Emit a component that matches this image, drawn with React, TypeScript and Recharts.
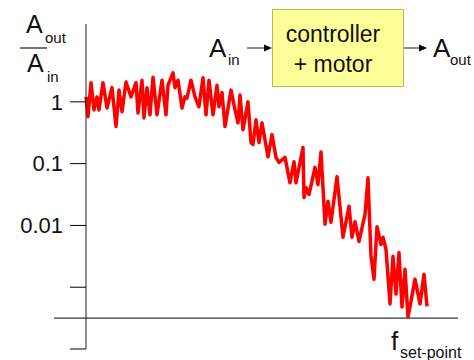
import * as React from "react";
import { LineChart, Line, XAxis, YAxis, ReferenceLine } from "recharts";

// frequency position (arbitrary units, 0 = start of the sweep)
const freq = [
  0, 2, 5, 8, 11, 13, 17, 21, 26, 30, 33, 36, 40, 45, 50, 52, 56, 58, 61, 64,
  67, 71, 76, 80, 82, 87, 89, 92, 96, 99, 101, 105, 109, 113, 117, 120, 123, 127, 131, 133,
  136, 139, 145, 149, 152, 154, 157, 162, 165, 167, 170, 173, 176, 182, 186, 190, 193, 199, 204, 208,
  210, 217, 218, 220, 223, 229, 232, 235, 239, 242, 245, 251, 257, 263, 266, 269, 273, 279, 282, 285,
  288, 291, 295, 297, 300, 304, 307, 310, 313, 316, 319, 322, 325, 329, 334, 338, 341,
];

// log10(A_out / A_in)
const gain = [
  0.08, -0.24, 0.31, -0.13, 0.08, -0.13, 0.31, -0.1, 0.23, -0.4, 0.19, -0.16, 0.32, 0.08, 0.31, -0.18, 0.35, -0.26, 0.23, -0.21,
  0.4, -0.21, 0.35, -0.21, 0.27, 0.47, 0.23, 0.35, -0.1, 0.08, 0.06, 0.35, 0.08, -0.08, 0.39, -0.21, 0.35, -0.21, 0.27, -0.08,
  0.15, -0.4, 0.19, -0.13, -0.34, 0.11, -0.45, 0.0, -0.66, -0.69, -0.29, -0.66, -0.34, -0.89, -0.53, -0.9, -0.98, -0.9, -1.31, -0.97,
  -1.31, -0.74, -1.55, -1.39, -1.5, -1.06, -1.34, -0.81, -1.98, -1.61, -1.95, -1.21, -2.19, -1.69, -2.19, -1.94, -2.26, -1.82, -1.23, -2.5,
  -2.87, -2.02, -2.31, -2.19, -2.39, -3.27, -2.5, -3.11, -2.44, -3.32, -2.71, -3.48, -3.23, -2.87, -3.27, -2.79, -3.31,
];

const yTicks = [-4, -3, -2, -1, 0];
const yTickLabels: Record<number, string> = { 0: "1", "-1": "0.1", "-2": "0.01" };

const data = freq.map((f, i) => ({ f, g: gain[i] }));

const font = '"Liberation Sans", Arial, sans-serif';

export default function App() {
  return (
    <div style={{ position: "fixed", left: 0, top: 0, width: 474, height: 360, background: "#fff", fontFamily: font }}>
      <LineChart width={474} height={360} data={data} margin={{ top: 24, right: 16, bottom: 11, left: 0 }}>
        <XAxis dataKey="f" type="number" domain={[0, 372]} hide />
        <YAxis
          type="number"
          domain={[-4, 1.26]}
          ticks={yTicks}
          allowDataOverflow
          width={86}
          axisLine={{ stroke: "#222", strokeWidth: 1 }}
          tickLine={{ stroke: "#000", strokeWidth: 1 }}
          tickSize={16}
          tickMargin={7}
          tick={{ fill: "#111", fontSize: 22, fontFamily: font }}
          tickFormatter={(v: number) => yTickLabels[v] ?? ""}
        />
        <ReferenceLine
          segment={[{ x: -32, y: -3.5 }, { x: 372, y: -3.5 }]}
          ifOverflow="visible"
          stroke="#000"
          strokeWidth={1}
        />
        <Line
          type="linear"
          dataKey="g"
          stroke="#ff0000"
          strokeWidth={3.5}
          strokeLinejoin="round"
          dot={false}
          isAnimationActive={false}
        />
      </LineChart>
      <svg width={474} height={360} style={{ position: "absolute", left: 0, top: 0, pointerEvents: "none" }} fontFamily={font}>
        {/* A_out / A_in */}
        <text x={26} y={33} fontSize={25} fill="#111">A</text>
        <text x={45} y={43} fontSize={15} fill="#111">out</text>
        <line x1={20} x2={47} y1={48} y2={48} stroke="#444" strokeWidth={1.5} />
        <text x={27} y={72} fontSize={25} fill="#111">A</text>
        <text x={47} y={82} fontSize={15} fill="#111">in</text>

        {/* block diagram */}
        <text x={209} y={57} fontSize={26} fill="#111">A</text>
        <text x={228} y={65} fontSize={15} fill="#111">in</text>
        <line x1={247} x2={266} y1={48} y2={48} stroke="#444" strokeWidth={1.2} />
        <polygon points="272,48 264,44.5 264,51.5" fill="#000" />
        <rect x={272.5} y={9.5} width={131} height={77} fill="#ffff99" stroke="#b8b85a" strokeWidth={1} />
        <text x={333} y={42} fontSize={23} textAnchor="middle" fill="#111">controller</text>
        <text x={333} y={72} fontSize={23} textAnchor="middle" fill="#111">+ motor</text>
        <line x1={404} x2={420} y1={48} y2={48} stroke="#444" strokeWidth={1.2} />
        <polygon points="427,48 419,44.5 419,51.5" fill="#000" />
        <text x={433} y={57} fontSize={26} fill="#111">A</text>
        <text x={450} y={65} fontSize={15} fill="#111">out</text>

        {/* f_set-point */}
        <text x={391} y={350} fontSize={26} fill="#111">f</text>
        <text x={400} y={358} fontSize={16} fill="#111">set-point</text>
      </svg>
    </div>
  );
}
